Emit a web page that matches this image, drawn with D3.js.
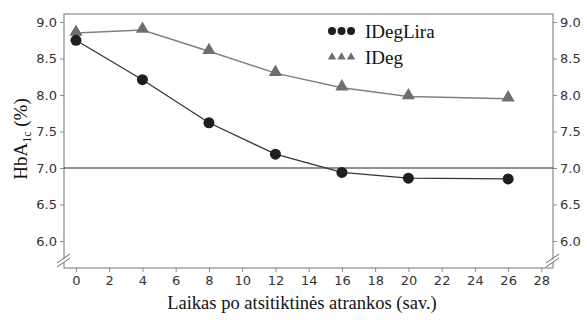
<!DOCTYPE html>
<html>
<head>
<meta charset="utf-8">
<script src="https://cdn.jsdelivr.net/npm/d3@7"></script>
<style>
  body { margin: 0; background: #fff; }
  .tick text { font-family: "DejaVu Sans", Verdana, sans-serif; font-size: 13px; fill: #333; }
  .serif { font-family: "Liberation Serif", "Times New Roman", serif; }
</style>
</head>
<body>
<div id="canvas"></div>
<script>
"use strict"

// DATA
let weeks = [0, 4, 8, 12, 16, 20, 26]
let idegLira = [8.75, 8.21, 7.62, 7.19, 6.94, 6.86, 6.85]
let ideg = [8.85, 8.89, 8.60, 8.30, 8.10, 7.98, 7.95]
let xTicks = [0, 2, 4, 6, 8, 10, 12, 14, 16, 18, 20, 22, 24, 26, 28]
let yTicks = [6.0, 6.5, 7.0, 7.5, 8.0, 8.5, 9.0]
let seriesNames = ["IDegLira", "IDeg"]
let refLine = 7.0

/* Configuration variables: drawing */
let svgWidth = 587
let svgHeight = 320

let marginLeft = 64
let marginRight = 34
let marginTop = 14
let marginBottom = 52

let svg = d3.select("#canvas")
  .append("svg")
  .attr("width", svgWidth)
  .attr("height", svgHeight)

let xScale = d3.scaleLinear()
  .domain([-0.72, 28.7])
  .range([marginLeft, svgWidth - marginRight])

let yScale = d3.scaleLinear()
  .domain([5.63, 9.11])
  .range([svgHeight - marginBottom, marginTop])

let frameColor = "#8a8a8a"

// frame
svg.append("rect")
  .attr("x", marginLeft)
  .attr("y", marginTop)
  .attr("width", svgWidth - marginRight - marginLeft)
  .attr("height", svgHeight - marginBottom - marginTop)
  .attr("fill", "none")
  .attr("stroke", frameColor)
  .attr("stroke-width", 1.2)

// axes
let xAxis = svg.append("g")
  .attr("transform", "translate(0," + (svgHeight - marginBottom) + ")")
  .call(d3.axisBottom(xScale).tickValues(xTicks).tickSize(4).tickPadding(4).tickFormat(d3.format("d")))
let yAxisL = svg.append("g")
  .attr("transform", "translate(" + marginLeft + ",0)")
  .call(d3.axisLeft(yScale).tickValues(yTicks).tickSize(4).tickPadding(3).tickFormat(d3.format(".1f")))
let yAxisR = svg.append("g")
  .attr("transform", "translate(" + (svgWidth - marginRight) + ",0)")
  .call(d3.axisRight(yScale).tickValues(yTicks).tickSize(4).tickPadding(3).tickFormat(d3.format(".1f")))

svg.selectAll(".domain").remove()
svg.selectAll(".tick line").attr("stroke", frameColor)

// axis breaks
let breakY = 260
for (let bx of [marginLeft, svgWidth - marginRight]) {
  svg.append("polygon")
    .attr("points", [[bx - 6, breakY + 3], [bx + 6, breakY - 5], [bx + 6, breakY - 2], [bx - 6, breakY + 6]].join(" "))
    .attr("fill", "white")
  svg.append("line")
    .attr("x1", bx - 7).attr("y1", breakY + 3)
    .attr("x2", bx + 6).attr("y2", breakY - 6)
    .attr("stroke", "#666")
  svg.append("line")
    .attr("x1", bx - 7).attr("y1", breakY + 7)
    .attr("x2", bx + 6).attr("y2", breakY - 2)
    .attr("stroke", "#666")
}

// reference line at 7.0
svg.append("line")
  .attr("x1", marginLeft)
  .attr("x2", svgWidth - marginRight)
  .attr("y1", yScale(refLine))
  .attr("y2", yScale(refLine))
  .attr("stroke", "#222")
  .attr("stroke-width", 1)

let line = d3.line()
  .x(function (d) { return xScale(d[0]) })
  .y(function (d) { return yScale(d[1]) })

let degData = weeks.map(function (w, i) { return [w, ideg[i]] })
let liraData = weeks.map(function (w, i) { return [w, idegLira[i]] })

let triColor = "#6e6e6e"
let dotColor = "#1e1e1e"

// IDeg line + triangles
svg.append("path")
  .attr("d", line(degData))
  .attr("fill", "none")
  .attr("stroke", "#808080")
  .attr("stroke-width", 1.5)

let tri = d3.symbol().type(d3.symbolTriangle).size(75)
svg.selectAll(".tri")
  .data(degData)
  .join("path")
  .attr("class", "tri")
  .attr("d", tri)
  .attr("transform", function (d) { return "translate(" + xScale(d[0]) + "," + (yScale(d[1]) - 1) + ")" })
  .attr("fill", triColor)

// IDegLira line + circles
svg.append("path")
  .attr("d", line(liraData))
  .attr("fill", "none")
  .attr("stroke", "#333")
  .attr("stroke-width", 1.3)

svg.selectAll(".dot")
  .data(liraData)
  .join("circle")
  .attr("class", "dot")
  .attr("cx", function (d) { return xScale(d[0]) })
  .attr("cy", function (d) { return yScale(d[1]) })
  .attr("r", 5.5)
  .attr("fill", dotColor)

// LEGEND
let legX = 332
let legY = [31, 57]
for (let k = 0; k < 3; k++) {
  svg.append("circle")
    .attr("cx", legX + k * 9.5)
    .attr("cy", legY[0])
    .attr("r", 4)
    .attr("fill", dotColor)
  svg.append("path")
    .attr("d", d3.symbol().type(d3.symbolTriangle).size(30))
    .attr("transform", "translate(" + (legX + k * 9.5) + "," + legY[1] + ")")
    .attr("fill", triColor)
}
for (let i = 0; i < seriesNames.length; i++) {
  svg.append("text")
    .attr("class", "serif")
    .attr("x", 365)
    .attr("y", legY[i])
    .attr("dy", "0.35em")
    .style("font-size", "19px")
    .attr("fill", "#111")
    .text(seriesNames[i])
}

// axis titles
svg.append("text")
  .attr("class", "serif")
  .attr("x", 302)
  .attr("y", 309)
  .attr("text-anchor", "middle")
  .style("font-size", "18.5px")
  .attr("fill", "#111")
  .text("Laikas po atsitiktinės atrankos (sav.)")

let yTitle = svg.append("text")
  .attr("class", "serif")
  .attr("transform", "translate(27,139) rotate(-90)")
  .attr("text-anchor", "middle")
  .style("font-size", "19px")
  .attr("fill", "#111")
yTitle.append("tspan").text("HbA")
yTitle.append("tspan").attr("dy", 4).style("font-size", "12px").text("1c")
yTitle.append("tspan").attr("dy", -4).text(" (%)")
</script>
</body>
</html>
